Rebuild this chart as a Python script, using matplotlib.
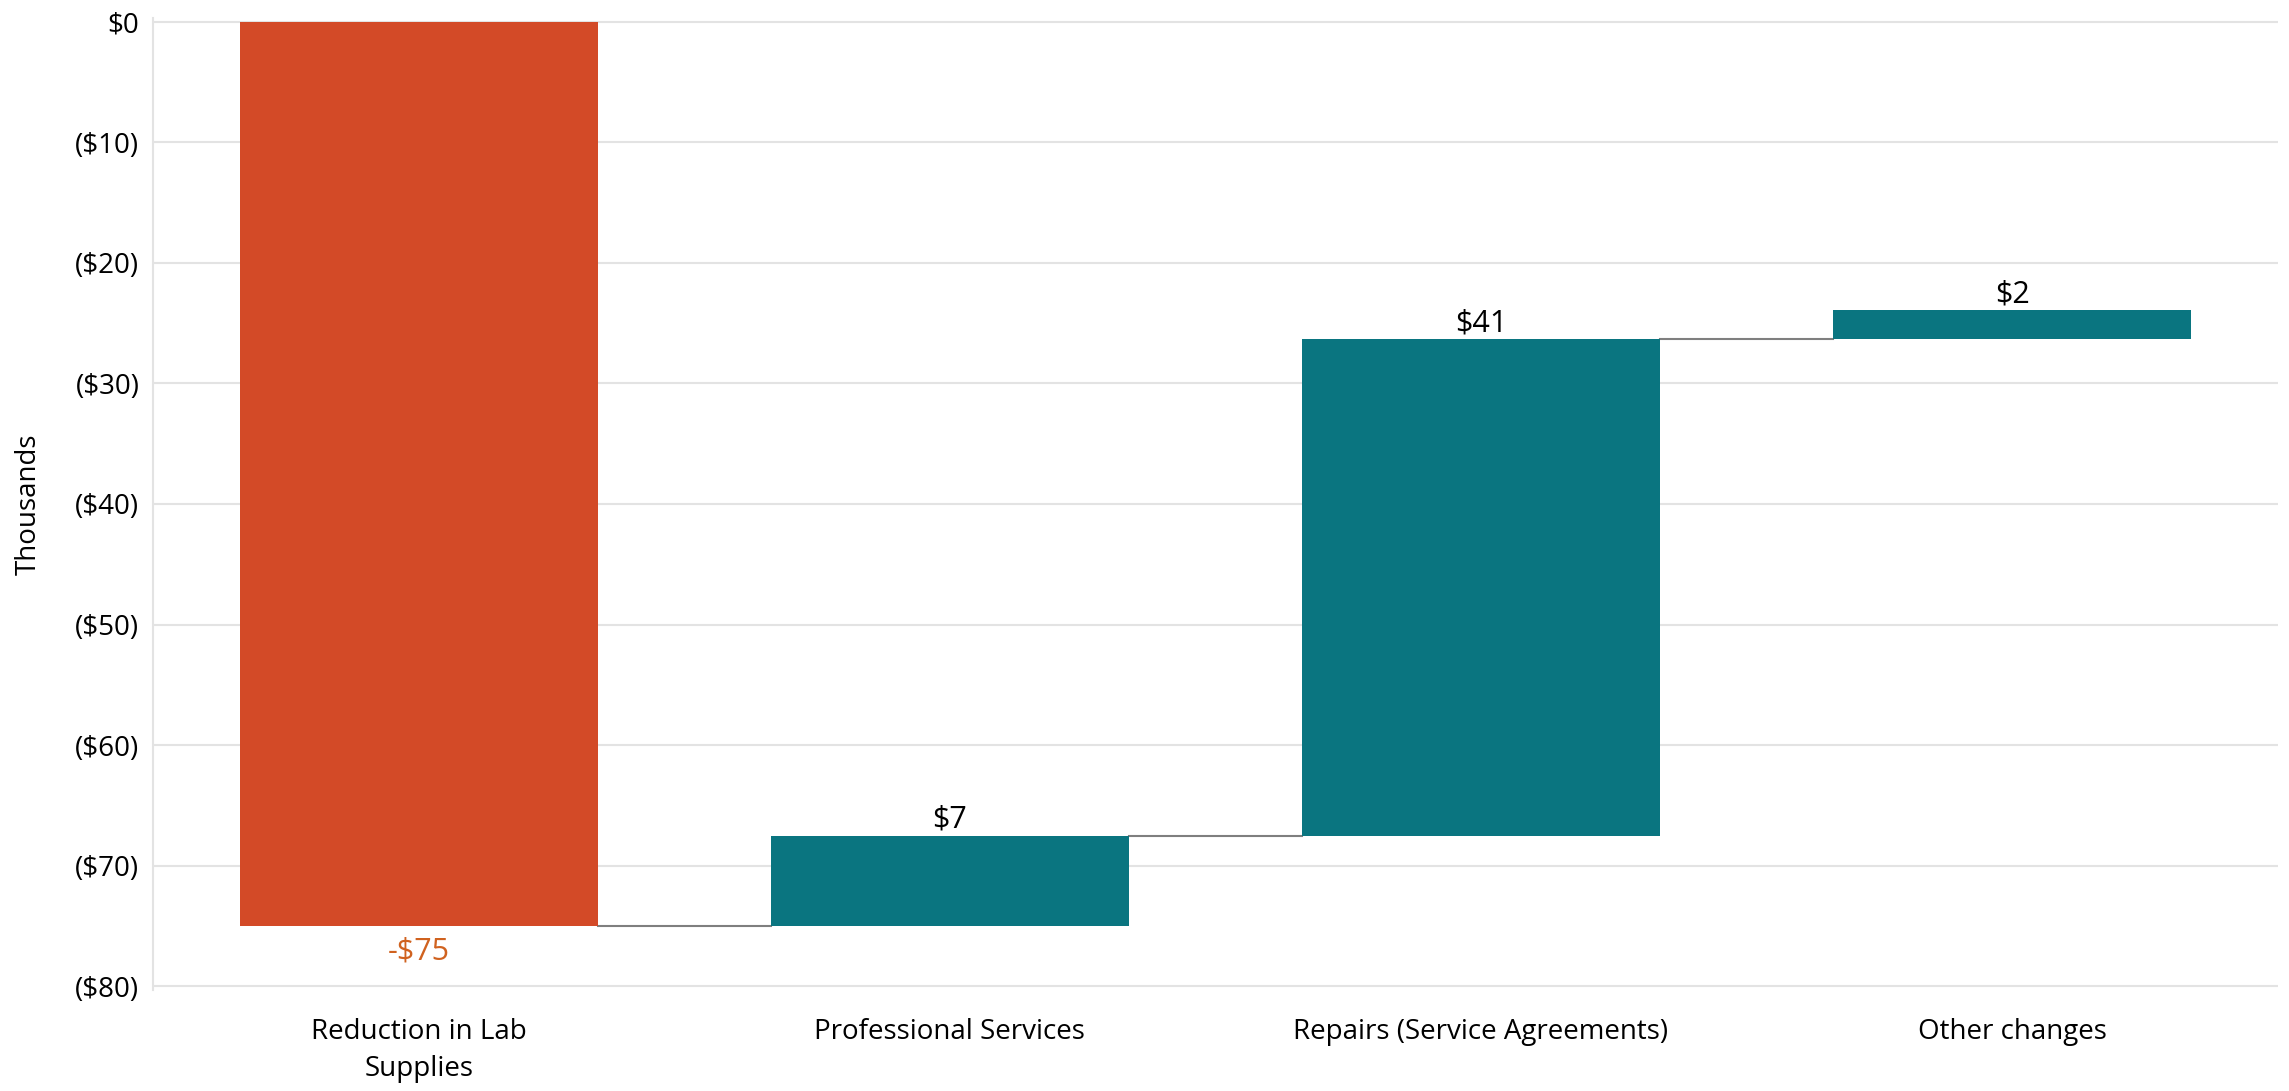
import numpy as np
import matplotlib
matplotlib.use("Agg")
from matplotlib import pyplot as plt

categories = ["Reduction in Lab\nSupplies", "Professional Services",
              "Repairs (Service Agreements)", "Other changes"]
changes = [-75.0, 7.5, 41.2, 2.4]
labels = ["-$75", "$7", "$41", "$2"]
yticks = [0, -10, -20, -30, -40, -50, -60, -70, -80]
yticklabels = ["$0", "($10)", "($20)", "($30)", "($40)", "($50)", "($60)", "($70)", "($80)"]

red = "#D34A27"
teal = "#0A7580"
plt.rcParams['font.family'] = ['Open Sans', 'DejaVu Sans']

fig = plt.figure(figsize=(22.89, 10.91), dpi=100)
ax = fig.add_axes([0.067, 0.0926, 0.928, 0.891])

x = np.arange(len(categories))
ends = np.cumsum(changes)
starts = ends - np.array(changes)
w = 0.675

colors = [red if c < 0 else teal for c in changes]
ax.bar(x, changes, bottom=starts, width=w, color=colors, zorder=3)

# connector lines
for i in range(len(x) - 1):
    ax.plot([x[i] + w/2, x[i+1] - w/2], [ends[i], ends[i]],
            color="#7f7f7f", lw=1.5, zorder=2)

for i in range(len(x)):
    if changes[i] < 0:
        ax.text(x[i], ends[i] - 0.9, labels[i], ha="center", va="top",
                fontsize=22, color="#D0621F")
    else:
        ax.text(x[i], ends[i] + 0.05, labels[i], ha="center", va="bottom",
                fontsize=22, color="black")

ax.set_xlim(-0.5, 3.5)
ax.set_ylim(-80.3, 0.3)
ax.set_yticks(yticks)
ax.set_yticklabels(yticklabels, fontsize=20)
ax.set_xticks(x)
ax.set_xticklabels(categories, fontsize=20, linespacing=1.45)
ax.set_ylabel("Thousands", fontsize=20)
ax.yaxis.set_label_coords(-0.052, 0.5)
ax.tick_params(length=0, pad=10)
ax.tick_params(axis="x", pad=20)
ax.grid(axis="y", color="#e3e3e3", lw=1.5, zorder=0)
for s in ["top", "right", "bottom"]:
    ax.spines[s].set_visible(False)
ax.spines["left"].set_color("#e3e3e3")
ax.spines["left"].set_linewidth(1.5)

fig.savefig("out.png", dpi=100)
